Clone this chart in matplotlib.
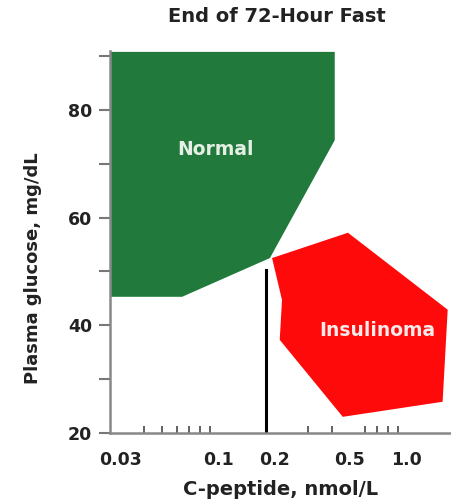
import matplotlib.pyplot as plt
import numpy as np

# region outlines (C-peptide nmol/L, glucose mg/dL)
normal_x = [0.0265, 0.416, 0.416, 0.188, 0.0641, 0.0265]
normal_y = [90.8, 90.8, 74.4, 52.5, 45.3, 45.3]

insulinoma_x = [0.193, 0.489, 1.66, 1.56, 0.459, 0.212, 0.218]
insulinoma_y = [52.5, 57.2, 42.9, 25.8, 23.0, 37.3, 44.7]

cutoff_x = 0.179
cutoff_top = 50.3

xticks = [0.03, 0.1, 0.2, 0.5, 1.0]
xtick_labels = ['0.03', '0.1', '0.2', '0.5', '1.0']
xminor = [0.04, 0.05, 0.06, 0.07, 0.08, 0.09, 0.1,
          0.3, 0.4, 0.5, 0.6, 0.7, 0.8, 0.9, 1.0]
yticks = [20, 40, 60, 80]
yminor = [30, 50, 70, 90]

fig = plt.figure(figsize=(4.52, 5.03), dpi=100)
ax = fig.add_axes([0.2434, 0.1392, 0.7566, 0.7598])

ax.fill(normal_x, normal_y, color='#217a3c', lw=0)
ax.fill(insulinoma_x, insulinoma_y, color='#ff0a0a', lw=0)
ax.plot([cutoff_x, cutoff_x], [20, cutoff_top], color='black', lw=2.2)

ax.text(0.097, 72.6, 'Normal', color='#e6efe6', fontsize=13.5, fontweight='bold',
        ha='center', va='center')
ax.text(0.70, 39.1, 'Insulinoma', color='#f5eaea', fontsize=13.5, fontweight='bold',
        ha='center', va='center')

ax.set_xscale('log')
ax.set_xlim(0.0265, 1.75)
ax.set_ylim(20, 91)

ax.set_xticks(xticks)
ax.set_xticklabels(xtick_labels)
ax.set_xticks(xminor, minor=True)
ax.xaxis.set_minor_formatter(plt.NullFormatter())
ax.tick_params(axis='x', which='major', length=0, pad=13, labelsize=12.5,
               labelcolor='#222222')
ax.tick_params(axis='x', which='minor', direction='in', length=5, width=1.3,
               color='#555555')

ax.set_yticks(yticks)
ax.set_yticks(yminor, minor=True)
ax.tick_params(axis='y', which='both', direction='out', length=8, width=1.5,
               color='#777777', labelsize=12.5, labelcolor='#222222', pad=5)

for lab in ax.get_xticklabels() + ax.get_yticklabels():
    lab.set_fontweight('bold')

for s in ['top', 'right']:
    ax.spines[s].set_visible(False)
for s in ['left', 'bottom']:
    ax.spines[s].set_color('#888888')
    ax.spines[s].set_linewidth(1.8)

ax.set_xlabel('C-peptide, nmol/L', fontsize=14, fontweight='bold',
              color='#222222', labelpad=8)
ax.set_ylabel('Plasma glucose, mg/dL', fontsize=13, fontweight='bold',
              color='#222222')
ax.yaxis.set_label_coords(-0.199, 0.432)
fig.text(0.612, 0.968, 'End of 72-Hour Fast', fontsize=14, fontweight='bold',
         color='#222222', ha='center', va='center')

fig.savefig('out.png', dpi=100)
